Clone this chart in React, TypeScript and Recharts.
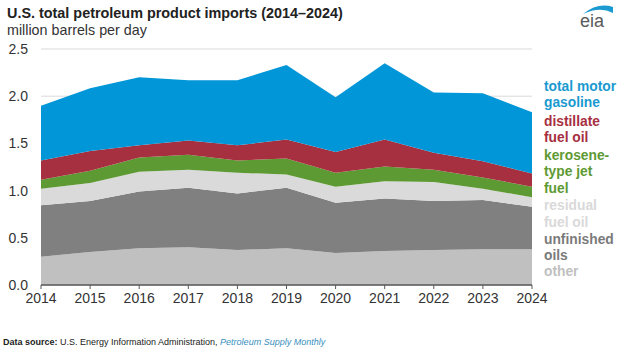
import React from "react";
import { AreaChart, Area, XAxis, YAxis, CartesianGrid } from "recharts";

const years = [2014, 2015, 2016, 2017, 2018, 2019, 2020, 2021, 2022, 2023, 2024];
const other = [0.30, 0.35, 0.39, 0.40, 0.37, 0.39, 0.34, 0.36, 0.37, 0.38, 0.38];
const unfinished = [0.545, 0.54, 0.60, 0.63, 0.60, 0.64, 0.53, 0.555, 0.52, 0.52, 0.45];
const residual = [0.175, 0.19, 0.21, 0.19, 0.22, 0.14, 0.17, 0.185, 0.20, 0.12, 0.10];
const jet = [0.095, 0.13, 0.15, 0.16, 0.13, 0.17, 0.15, 0.155, 0.13, 0.12, 0.11];
const distillate = [0.205, 0.21, 0.13, 0.15, 0.16, 0.20, 0.22, 0.285, 0.18, 0.17, 0.14];
const gasoline = [0.58, 0.665, 0.72, 0.64, 0.69, 0.79, 0.58, 0.81, 0.64, 0.72, 0.65];
const yTicks = [0, 0.5, 1.0, 1.5, 2.0, 2.5];

const data = years.map((y, i) => ({
  year: y,
  other: other[i],
  unfinished: unfinished[i],
  residual: residual[i],
  jet: jet[i],
  distillate: distillate[i],
  gasoline: gasoline[i],
}));

const series = [
  { key: "other", color: "#c0c0c0" },
  { key: "unfinished", color: "#808080" },
  { key: "residual", color: "#dadada" },
  { key: "jet", color: "#5e9a34" },
  { key: "distillate", color: "#a6303f" },
  { key: "gasoline", color: "#0096d7" },
];

const legendLines = [
  { text: "total motor", y: 86, color: "#1a9ad0" },
  { text: "gasoline", y: 102.5, color: "#1a9ad0" },
  { text: "distillate", y: 121.5, color: "#a6303f" },
  { text: "fuel oil", y: 137.5, color: "#a6303f" },
  { text: "kerosene-", y: 155.5, color: "#5e9a34" },
  { text: "type jet", y: 171.5, color: "#5e9a34" },
  { text: "fuel", y: 188.5, color: "#5e9a34" },
  { text: "residual", y: 205.5, color: "#d9d9d9" },
  { text: "fuel oil", y: 222.5, color: "#d9d9d9" },
  { text: "unfinished", y: 239, color: "#7a7a7a" },
  { text: "oils", y: 255.5, color: "#7a7a7a" },
  { text: "other", y: 271, color: "#c0c0c0" },
];

const FONT = "'Liberation Sans', Arial, sans-serif";

export default function App() {
  return (
    <div style={{ position: "absolute", left: 0, top: 0, width: 625, height: 347, background: "#fff", fontFamily: FONT }}>
      <AreaChart
        width={625}
        height={347}
        data={data}
        margin={{ top: 49, right: 93, bottom: 42, left: 0 }}
      >
        <CartesianGrid vertical={false} stroke="#d9d9d9" strokeWidth={1} />
        <XAxis
          dataKey="year"
          type="number"
          domain={[2014, 2024]}
          ticks={years}
          interval={0}
          height={20}
          stroke="#595959"
          tickSize={4}
          tickMargin={4}
          tick={{ fill: "#333", fontSize: 14, fontFamily: FONT }}
          axisLine={{ stroke: "#595959", strokeWidth: 1.5 }}
        />
        <YAxis
          type="number"
          domain={[0, 2.5]}
          ticks={yTicks}
          interval={0}
          width={41}
          axisLine={false}
          tickLine={false}
          tickSize={0}
          tickMargin={13}
          tickFormatter={(v: number) => v.toFixed(1)}
          tick={{ fill: "#333", fontSize: 14, fontFamily: FONT }}
        />
        {series.map((s) => (
          <Area
            key={s.key}
            dataKey={s.key}
            stackId="1"
            type="linear"
            stroke="none"
            fill={s.color}
            fillOpacity={1}
            isAnimationActive={false}
            dot={false}
            activeDot={false}
          />
        ))}
      </AreaChart>
      <svg width={625} height={347} style={{ position: "absolute", left: 0, top: 0, pointerEvents: "none" }}>
        <text x={7} y={18} fontSize={14.4} fontWeight="bold" fill="#222" fontFamily={FONT}>
          U.S. total petroleum product imports (2014–2024)
        </text>
        <text x={7} y={35} fontSize={14.3} fill="#333" fontFamily={FONT}>
          million barrels per day
        </text>
        {legendLines.map((l, i) => (
          <text key={i} x={544} y={l.y + 4.7} fontSize={13.8} fontWeight="bold" fill={l.color} fontFamily={FONT}>
            {l.text}
          </text>
        ))}
        <text x={3} y={344.5} fontSize={9} fill="#222" fontFamily={FONT}>
          <tspan fontWeight="bold">Data source:</tspan>
          <tspan> U.S. Energy Information Administration, </tspan>
          <tspan fontStyle="italic" fill="#3a8fc0">Petroleum Supply Monthly</tspan>
        </text>
        <path d="M583,14 Q598,2 613,7 L613,13 Q600,6 583,14 Z" fill="#1a9ad0" />
        <text x={580} y={27} fontSize={18} fill="#5a5a5a" fontFamily={FONT}>
          eia
        </text>
      </svg>
    </div>
  );
}
